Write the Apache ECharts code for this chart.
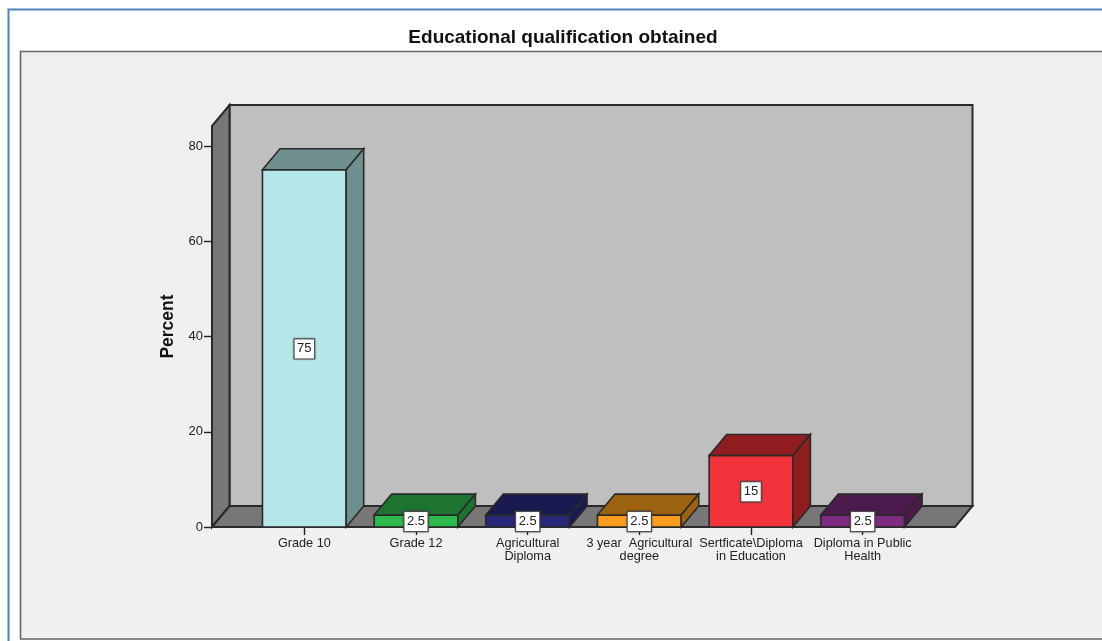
<!DOCTYPE html>
<html>
<head>
<meta charset="utf-8">
<style>html,body{margin:0;padding:0;background:#fff;overflow:hidden}#c{width:1102px;height:641px}</style>
<script src="https://cdn.jsdelivr.net/npm/echarts@6/dist/echarts.min.js"></script>
</head>
<body>
<div id="c"></div>
<script>
const categories = ['Grade 10', 'Grade 12', 'Agricultural\nDiploma', '3 year  Agricultural\ndegree', 'Sertficate\\Diploma\nin Education', 'Diploma in Public\nHealth'];
const percents = [75, 2.5, 2.5, 2.5, 15, 2.5];
const frontColors = ['#b5e7e8', '#2db84c', '#28297a', '#fa9c1e', '#f2333c', '#7e2a80'];
const sideColors = ['#6f8f8f', '#1d7330', '#191a50', '#9c6210', '#8f1d20', '#4d1a4d'];
const yTicks = [0, 20, 40, 60, 80];
const axisTop = 84.2;

const DX = 17.5, DY = -21, EDGE = '#2a2a2a', FONT = '"Liberation Sans", Arial, sans-serif';
const poly = (points, fill, w) => ({ type: 'polygon', shape: { points }, style: { fill, stroke: EDGE, lineWidth: w || 1.6, lineJoin: 'miter' } });

function renderWalls(params, api) {
  const cs = params.coordSys;
  const y0 = api.coord([0, 0])[1], yT = api.coord([0, api.value(1)])[1];
  const xL = cs.x - 36.5, xR = cs.x + cs.width + 36.5;
  return { type: 'group', children: [
    poly([[xL + DX, yT + DY], [xR + DX, yT + DY], [xR + DX, y0 + DY], [xL + DX, y0 + DY]], '#bfbfbf', 2),
    poly([[xL, yT], [xL + DX, yT + DY], [xL + DX, y0 + DY], [xL, y0]], '#777777', 2),
    poly([[xL, y0], [xL + DX, y0 + DY], [xR + DX, y0 + DY], [xR, y0]], '#777777', 2)
  ] };
}

function renderBar(params, api) {
  const i = api.value(0);
  const top = api.coord([i, api.value(1)]), base = api.coord([i, 0]);
  const w = api.size([1, 0])[0] * 0.75;
  const l = top[0] - w / 2, r = top[0] + w / 2, t = top[1], b = base[1];
  return { type: 'group', children: [
    poly([[l, t], [r, t], [r, b], [l, b]], frontColors[i]),
    poly([[l, t], [l + DX, t + DY], [r + DX, t + DY], [r, t]], sideColors[i]),
    poly([[r, t], [r + DX, t + DY], [r + DX, b + DY], [r, b]], sideColors[i]),
    { type: 'text', z2: 10, x: top[0], y: (t + b) / 2 + 0.5, style: {
      text: String(api.value(1)), font: '13px ' + FONT, fill: '#222', align: 'center', verticalAlign: 'middle',
      backgroundColor: '#fff', borderColor: '#555', borderWidth: 1.2, padding: [3, 2.5, 3, 2.5],
      shadowColor: 'rgba(0,0,0,0.35)', shadowBlur: 2
    } }
  ] };
}

const chart = echarts.init(document.getElementById('c'), null, { renderer: 'canvas' });
chart.setOption({
  animation: false,
  backgroundColor: '#ffffff',
  title: { text: 'Educational qualification obtained', left: 558, top: 23, textAlign: 'center',
    textStyle: { fontFamily: FONT, fontSize: 19, fontWeight: 'bold', color: '#111' } },
  graphic: [
    { type: 'rect', z: -10, shape: { x: 8.5, y: 9.5, width: 1200, height: 800 }, style: { fill: '#fff', stroke: '#4f81bd', lineWidth: 2 } },
    { type: 'rect', z: -9, shape: { x: 20.5, y: 51.5, width: 1200, height: 587.5 }, style: { fill: '#f0f0f0', stroke: '#666', lineWidth: 1.6 } }
  ],
  grid: { left: 248.5, width: 670, top: 126, height: 401, containLabel: false },
  xAxis: {
    type: 'category', data: categories, axisLine: { show: false },
    axisTick: { show: true, alignWithLabel: true, length: 8, lineStyle: { color: '#222', width: 1.4 } },
    axisLabel: { interval: 0, margin: 10.5, fontFamily: FONT, fontSize: 12.7, lineHeight: 12.5, color: '#222' }
  },
  yAxis: {
    type: 'value', min: 0, max: axisTop, offset: 36.5,
    name: 'Percent', nameLocation: 'middle', nameGap: 33.5,
    nameTextStyle: { fontFamily: FONT, fontSize: 17.5, fontWeight: 'bold', color: '#111' },
    splitLine: { show: false }, axisLine: { show: false },
    axisTick: { show: true, length: 8, customValues: yTicks, lineStyle: { color: '#222', width: 1.4 } },
    axisLabel: { customValues: yTicks, margin: 9, padding: [4, 0, 0, 0], fontFamily: FONT, fontSize: 13, color: '#222' }
  },
  series: [
    { type: 'custom', z: 1, clip: false, silent: true, renderItem: renderWalls, data: [[0, axisTop]], encode: { x: 0, y: 1 } },
    { type: 'custom', z: 3, clip: false, renderItem: renderBar, data: percents.map((v, i) => [i, v]), encode: { x: 0, y: 1 } }
  ]
});
</script>
</body>
</html>
